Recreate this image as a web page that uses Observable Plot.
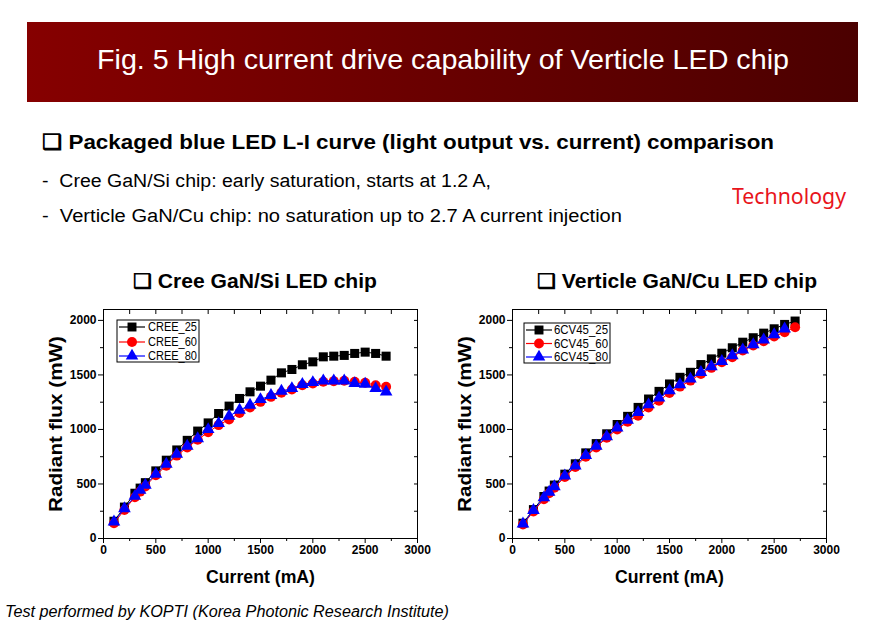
<!DOCTYPE html>
<html><head><meta charset="utf-8">
<script src="https://cdn.jsdelivr.net/npm/d3@7"></script>
<script src="https://cdn.jsdelivr.net/npm/@observablehq/plot@0.6"></script>
<style>
body{margin:0;background:#fff;width:883px;height:624px;overflow:hidden;position:relative;font-family:"Liberation Sans",Arial,sans-serif;color:#000;}
.abs{position:absolute;white-space:nowrap;line-height:1;}
#banner{position:absolute;left:27px;top:22px;width:831px;height:80px;background:linear-gradient(90deg,#860000,#4b0000);}
.chart{position:absolute;top:300px;}
</style></head><body>
<div id="banner"></div>
<div class="abs fit" data-l="97" data-w="692" style="top:46px;font-size:28px;color:#fff;">Fig. 5 High current drive capability of Verticle LED chip</div>
<div class="abs fit" data-l="42" data-w="732" style="top:131px;font-size:21px;font-weight:bold;">❑ Packaged blue LED L-I curve (light output vs. current) comparison</div>
<div class="abs fit" data-l="42" data-w="449" style="top:172px;font-size:18px;">-&nbsp; Cree GaN/Si chip: early saturation, starts at 1.2 A,</div>
<div class="abs fit" data-l="42" data-w="580" style="top:207px;font-size:18px;">-&nbsp; Verticle GaN/Cu chip: no saturation up to 2.7 A current injection</div>
<div class="abs fit" data-l="732" data-w="114" style="top:186px;font-size:21px;color:#e8141b;font-family:'Noto Sans',sans-serif;">Technology</div>
<div class="abs fit" data-l="133" data-w="244" style="top:271px;font-size:20px;font-weight:bold;">❑ Cree GaN/Si LED chip</div>
<div class="abs fit" data-l="537" data-w="280" style="top:271px;font-size:20px;font-weight:bold;">❑ Verticle GaN/Cu LED chip</div>
<div class="abs fit" data-l="5" data-w="444" style="top:604px;font-size:16px;font-style:italic;">Test performed by KOPTI (Korea Photonic Research Institute)</div>
<div id="c1" class="chart" style="left:40px;"></div>
<div id="c2" class="chart" style="left:449px;"></div>
<script>
// ---- data ----
const current = [100,200,300,350,400,500,600,700,800,900,1000,1100,1200,1300,1400,1500,1600,1700,1800,1900,2000,2100,2200,2300,2400,2500,2600,2700];
const cree25 = [158,288,415,462,512,620,718,812,900,985,1060,1146,1214,1284,1345,1397,1452,1519,1550,1593,1620,1666,1672,1679,1697,1709,1697,1672];
const cree60 = [140,262,378,430,478,580,668,760,835,905,975,1040,1092,1152,1202,1253,1299,1336,1367,1406,1422,1437,1443,1446,1437,1428,1406,1391];
const cree80 = [152,275,388,443,489,590,682,773,847,917,1000,1055,1122,1177,1223,1275,1312,1351,1376,1413,1431,1446,1446,1446,1422,1416,1376,1345];
const cv25 = [140,265,385,435,490,590,685,785,870,960,1045,1120,1202,1279,1349,1417,1478,1524,1595,1647,1699,1749,1800,1841,1883,1923,1963,1994];
const cv60 = [128,248,360,415,465,565,655,750,835,925,1000,1070,1126,1202,1264,1335,1393,1448,1509,1565,1616,1662,1724,1770,1809,1853,1892,1938];
const cv80 = [135,258,374,426,476,575,667,762,848,935,1015,1085,1156,1227,1289,1356,1411,1463,1524,1577,1625,1678,1730,1779,1822,1871,1923,null];
const creeNames = ["CREE_25","CREE_60","CREE_80"];
const cvNames = ["6CV45_25","6CV45_60","6CV45_80"];
const colors = ["#000000","#ff0000","#0000ff"];
const symbols = ["square","circle","triangle"];
const xMajor = [0,500,1000,1500,2000,2500,3000];
const xMinor = [250,750,1250,1750,2250,2750];
const yMajor = [0,500,1000,1500,2000];
const yMinor = [250,750,1250,1750];
const xTitle = "Current (mA)";
const yTitle = "Radiant flux (mW)";

function chart(names, seriesVals) {
  const marks = [
    Plot.frame({stroke:"#000", strokeWidth:1}),
    Plot.axisX({ticks:xMajor, tickSize:5, tickPadding:2, label:null, tickFormat:d=>String(d), fontSize:12, fontWeight:"bold"}),
    Plot.axisX({ticks:xMinor, tickSize:3, label:null, tickFormat:()=>""}),
    Plot.axisX({anchor:"top", ticks:xMajor.concat(xMinor), tickSize:-4, label:null, tickFormat:()=>""}),
    Plot.axisY({ticks:yMajor, tickSize:5, tickPadding:2, label:null, tickFormat:d=>String(d), fontSize:12, fontWeight:"bold"}),
    Plot.axisY({ticks:yMinor, tickSize:3, label:null, tickFormat:()=>""}),
    Plot.axisY({anchor:"right", ticks:yMajor.concat(yMinor), tickSize:-4, label:null, tickFormat:()=>""}),
    Plot.text([xTitle], {frameAnchor:"bottom", dy:39, fontSize:18, fontWeight:"bold", lineAnchor:"middle", textAnchor:"middle"}),
    Plot.text([yTitle], {frameAnchor:"left", dx:-48, rotate:-90, fontSize:19, fontWeight:"bold", lineAnchor:"middle", textAnchor:"middle"})
  ];
  names.forEach((n, k) => {
    const data = current.map((c,i)=>({x:c, y:seriesVals[k][i]})).filter(d=>d.y!=null);
    marks.push(Plot.line(data, {x:"x", y:"y", stroke:colors[k], strokeWidth:1}));
    marks.push(Plot.dot(data, {x:"x", y:"y", symbol:()=>symbols[k], fill:colors[k], stroke:"none", r: k===2?4.7:(k===0?5.1:5)}));
  });
  const svg = Plot.plot({
    width:390, height:290, marginLeft:63, marginRight:13, marginTop:9, marginBottom:52,
    x:{domain:[0,3000]}, y:{domain:[0,2100]},
    symbol:{type:"identity"},
    style:{fontFamily:"'Liberation Sans', Arial, sans-serif", color:"#000", background:"transparent", overflow:"visible"},
    marks
  });
  d3.select(svg).selectAll("text").each(function(){
    const t = this.textContent;
    if (t === yTitle) d3.select(this).attr("textLength", 176).attr("lengthAdjust","spacingAndGlyphs");
    if (t === xTitle) d3.select(this).attr("textLength", 109).attr("lengthAdjust","spacingAndGlyphs");
  });
  return svg;
}
document.getElementById("c1").appendChild(chart(creeNames, [cree25, cree60, cree80]));
document.getElementById("c2").appendChild(chart(cvNames, [cv25, cv60, cv80]));

// ---- legends ----
function legend(names, left, top, w, h, rowY, lineX0, lineX1, textX, textW) {
  const svg = d3.create("svg").attr("width", w+2).attr("height", h+2)
    .style("position","absolute").style("left",(left-1)+"px").style("top",(top-1)+"px").style("overflow","visible");
  svg.append("rect").attr("x",1).attr("y",1).attr("width",w).attr("height",h).attr("fill","#fff").attr("stroke","#000").attr("stroke-width",1);
  names.forEach((n,k)=>{
    const y = rowY[k]-top+1;
    svg.append("line").attr("x1",lineX0-left+1).attr("x2",lineX1-left+1).attr("y1",y).attr("y2",y).attr("stroke",colors[k]).attr("stroke-width",1.2);
    const cx = (lineX0+lineX1)/2-left+1;
    const sym = [d3.symbolSquare, d3.symbolCircle, d3.symbolTriangle][k];
    const size = [80, 78, 68][k];
    svg.append("path").attr("d", d3.symbol(sym, size)()).attr("transform",`translate(${cx},${y})`).attr("fill",colors[k]);
    svg.append("text").attr("x",textX-left+1).attr("y",y).attr("dy","0.36em").attr("font-size",12)
      .attr("textLength", textW).attr("lengthAdjust","spacingAndGlyphs")
      .attr("font-family","'Liberation Sans', Arial, sans-serif").text(n);
  });
  document.body.appendChild(svg.node());
}
legend(creeNames, 117, 320, 82, 42, [327,342,356], 119, 145, 148, 49);
legend(cvNames, 524, 323, 86, 40, [330,343.5,357], 526, 552, 554, 54);

// fit text widths
document.querySelectorAll(".fit").forEach(el=>{
  el.style.left = el.dataset.l+"px";
  const w = el.getBoundingClientRect().width;
  el.style.transformOrigin = "0 0";
  el.style.transform = `scaleX(${(+el.dataset.w)/w})`;
});
</script>
</body></html>
